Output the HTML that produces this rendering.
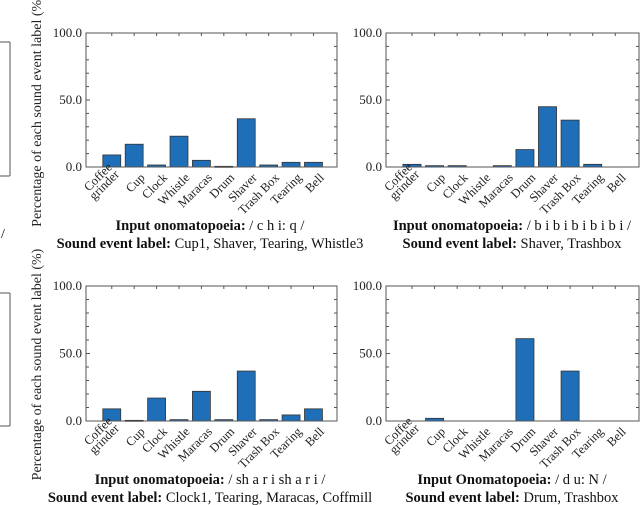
<!DOCTYPE html>
<html><head><meta charset="utf-8">
<style>
html,body{margin:0;padding:0;background:#fff;}
svg{display:block;font-family:"Liberation Serif",serif;}
</style></head>
<body>
<svg id="fig" width="640" height="505" viewBox="0 0 640 505" xmlns="http://www.w3.org/2000/svg">
  <g stroke="#555" fill="none">
    <line x1="10" y1="42" x2="10" y2="176"/>
    <line x1="0" y1="42" x2="10" y2="42"/>
    <line x1="0" y1="176" x2="10" y2="176"/>
    <line x1="10" y1="293" x2="10" y2="426"/>
    <line x1="0" y1="293" x2="10" y2="293"/>
    <line x1="0" y1="426" x2="10" y2="426"/>
  </g>
  <text x="1" y="238" font-size="14">/</text>
</svg>
<script>
const categories = ["Coffee|grinder","Cup","Clock","Whistle","Maracas","Drum","Shaver","Trash Box","Tearing","Bell"];
const valuesChi = [9, 17, 1.5, 23, 5, 0.5, 36, 1.5, 3.5, 3.5];
const valuesBibi = [2, 1, 1, 0, 1, 13, 45, 35, 2, 0];
const valuesShari = [9, 0.5, 17, 1, 22, 1, 37, 1, 4.5, 9];
const valuesDu = [0, 2, 0, 0, 0, 61, 0, 37, 0, 0];
const yTicks = [0, 50, 100];
const yTickLabels = ["0.0", "50.0", "100.0"];
const captions1 = ["Input onomatopoeia:|/ c h i: q /","Input onomatopoeia:|/ b i b i b i b i b i /","Input onomatopoeia:|/ sh a r i sh a r i /","Input Onomatopoeia:|/ d u: N /"];
const captions2 = ["Sound event label:|Cup1, Shaver, Tearing, Whistle3","Sound event label:|Shaver, Trashbox","Sound event label:|Clock1, Tearing, Maracas, Coffmill","Sound event label:|Drum, Trashbox"];

const NS = "http://www.w3.org/2000/svg";
const svg = document.getElementById("fig");
function mk(tag, attrs, parent){const e=document.createElementNS(NS,tag);for(const k in attrs)e.setAttribute(k,attrs[k]);(parent||svg).appendChild(e);return e;}

const panels = [
  {vals: valuesChi, x0: 86, x1: 337, y0: 33, y1: 167, cx: 210, ylabel: true},
  {vals: valuesBibi, x0: 386, x1: 639, y0: 33, y1: 167, cx: 512, ylabel: false},
  {vals: valuesShari, x0: 86, x1: 337, y0: 286, y1: 421, cx: 210, ylabel: true},
  {vals: valuesDu, x0: 386, x1: 639, y0: 286, y1: 421, cx: 512, ylabel: false}
];
const XMIN = -1.15, XMAX = 10.05, YMAX = 100;

panels.forEach((p, pi) => {
  const g = mk("g", {});
  
  
  const xs = v => p.x0 + (v - XMIN) / (XMAX - XMIN) * (p.x1 - p.x0);
  const ys = v => p.y1 - v / YMAX * (p.y1 - p.y0);
  const unit = (p.x1 - p.x0) / (XMAX - XMIN);
  p.vals.forEach((v, i) => {
    const h = ys(0) - ys(v);
    if (v <= 0) return;
    const r = mk("rect", {x: xs(i) - 0.4*unit, y: ys(v), width: 0.8*unit, height: Math.max(h, 1), fill: "#1f6fb8", stroke: "#333", "stroke-width": 0.8}, g);
    
    
  });
  const fr = mk("rect", {x: p.x0, y: p.y0, width: p.x1 - p.x0, height: p.y1 - p.y0, fill: "none", stroke: "#555", "stroke-width": 1}, g);
  
  
  for (let t = 0; t <= 100; t += 10) {
    const len = (t % 50 === 0) ? 4 : 3;
    mk("line", {x1: p.x0, x2: p.x0 + len, y1: ys(t), y2: ys(t), stroke: "#555"}, g);
    mk("line", {x1: p.x1, x2: p.x1 - len, y1: ys(t), y2: ys(t), stroke: "#555"}, g);
  }
  categories.forEach((c, i) => {
    mk("line", {x1: xs(i), x2: xs(i), y1: p.y0, y2: p.y0 + 3, stroke: "#555"}, g);
  });
  yTicks.forEach((t, k) => {
    const tx = mk("text", {x: p.x0 - 4, y: ys(t) + 4, "font-size": 13, "text-anchor": "end", fill: "#222"}, g);
    tx.textContent = yTickLabels[k];
    
    
  });
  categories.forEach((c, i) => {
    const parts = c.split('|');
    const ax = xs(i) + 5, ay = p.y1 + 5;
    const t = mk("text", {transform: `translate(${ax},${ay}) rotate(-45)`, "font-size": 12.5, "text-anchor": "end", fill: "#222"}, g);
    
    
    if (parts.length === 2) {
      const a = mk("tspan", {x: 0, y: 0}, t); a.textContent = parts[0];
      const b = mk("tspan", {x: 0, y: 10}, t); b.textContent = parts[1];
      t.setAttribute('transform', `translate(${ax-4},${ay-4}) rotate(-45)`);
    } else {
      t.setAttribute('y', 9);
      t.textContent = parts[0];
    }
  });
  if (p.ylabel) {
    const midY = (p.y0 + p.y1) / 2 + 11;
    const yl = mk("text", {transform: `translate(41,${midY}) rotate(-90)`, "font-size": 14, "text-anchor": "middle", fill: "#222"}, g);
    yl.textContent = "Percentage of each sound event label (%)";
    
    
  }
  [captions1[pi], captions2[pi]].forEach((c, k) => {
    const parts = c.split('|');
    const t = mk("text", {x: p.cx, y: p.y1 + 63 + k * 18, "font-size": 14.5, "text-anchor": "middle", fill: "#111"}, g);
    
    
    const b = mk("tspan", {"font-weight": "bold"}, t); b.textContent = parts[0] + " ";
    const n = mk("tspan", {}, t); n.textContent = parts[1];
  });
});
</script>
</body></html>
